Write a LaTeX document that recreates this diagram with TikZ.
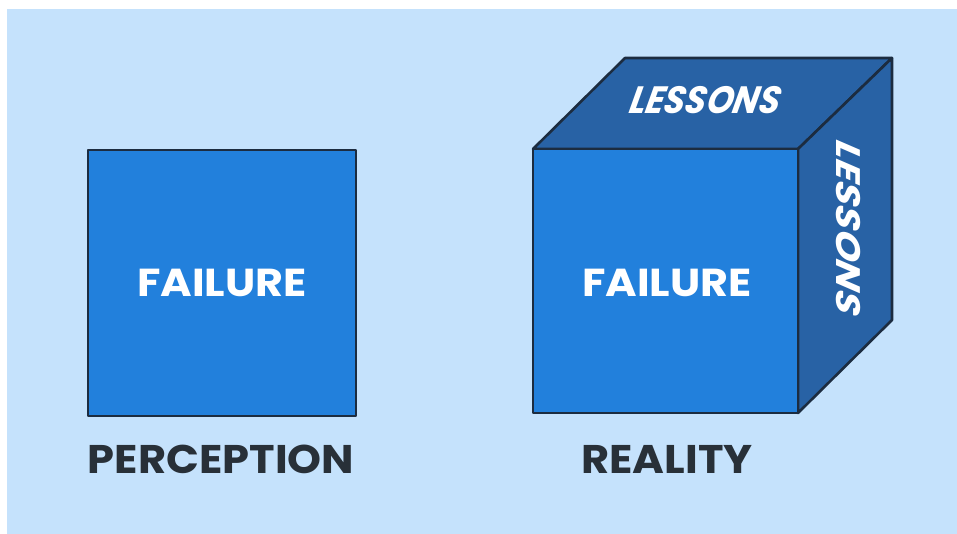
\documentclass[tikz,border=0pt]{standalone}
\usepackage{fontspec}
\setmainfont{Poppins}
\usetikzlibrary{positioning}

\definecolor{bgblue}{RGB}{197,226,252}
\definecolor{faceblue}{RGB}{34,128,220}
\definecolor{darkface}{RGB}{40,98,165}
\definecolor{edge}{RGB}{28,44,64}
\definecolor{ink}{RGB}{40,48,56}

\tikzset{
  box/.style={draw=edge,line width=2.6pt,line join=round},
  boxtext/.style={text=white,font=\fontsize{39}{42}\selectfont\bfseries},
  caption/.style={text=ink,font=\fontsize{40}{42}\selectfont\bfseries},
  lesson/.style={text=white,font=\fontsize{34}{36}\selectfont\bfseries\itshape}
}

\begin{document}
\begin{tikzpicture}[x=1pt,y=-1pt]
\useasboundingbox (0,0) rectangle (957,534);
\fill[white] (-5,-5) rectangle (965,545);
\fill[bgblue] (7,9) rectangle (965,545);

% perception: a plain square
\node[box,fill=faceblue,minimum width=268pt,minimum height=266pt,inner sep=0pt] (perc) at (222,283) {};
\node[boxtext,xscale=1.1] (failA) at (perc.center) {FAILURE};
\node[caption,xscale=1.08] (percl) at (221,459) {PERCEPTION};

% reality: the cube
\coordinate (A) at (533,149);
\coordinate (B) at (798,149);
\coordinate (C) at (798,413);
\coordinate (D) at (533,413);
\coordinate (E) at (625,58);
\coordinate (F) at (892,58);
\coordinate (G) at (892,320);

\filldraw[box,fill=darkface] (A)--(E)--(F)--(B)--cycle;
\filldraw[box,fill=darkface] (B)--(F)--(G)--(C)--cycle;
\filldraw[box,fill=faceblue] (A)--(B)--(C)--(D)--cycle;

\node[boxtext,xscale=1.1] (failB) at (667,283) {FAILURE};
\node[lesson,xslant=0.2,yscale=1.12] (lesTop) at (706,100) {LESSONS};
\node[lesson,rotate=-90,xscale=1.15,xslant=0.2] (lesSide) at (848,229) {LESSONS};
\node[caption,xscale=1.08] (reall) at (667,459) {REALITY};

\end{tikzpicture}
\end{document}
